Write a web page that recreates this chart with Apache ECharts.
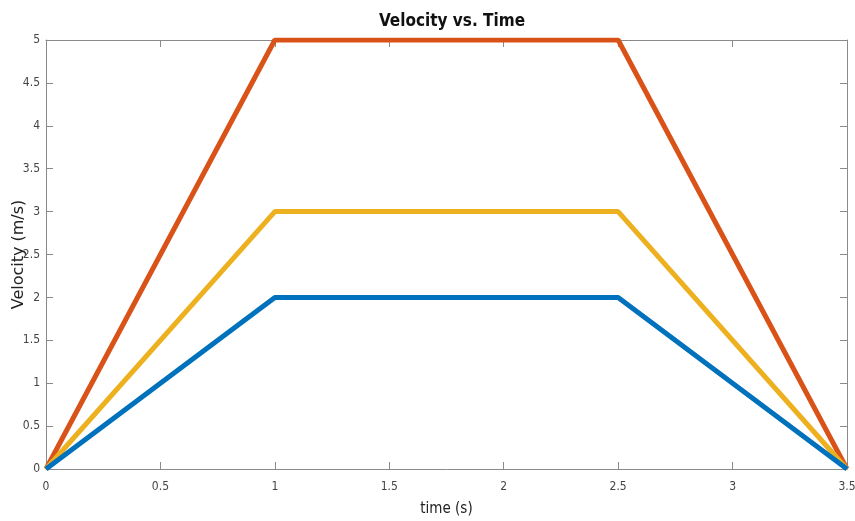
<!DOCTYPE html>
<html>
<head>
<meta charset="utf-8">
<script src="https://cdn.jsdelivr.net/npm/echarts@6/dist/echarts.min.js"></script>
<style>html,body{margin:0;padding:0;background:#fff}#c{width:855px;height:521px}</style>
</head>
<body>
<div id="c"></div>
<script>
const time = [0, 1, 2.5, 3.5];
const velBlue = [0, 2, 2, 0];
const velOrange = [0, 5, 5, 0];
const velYellow = [0, 3, 3, 0];
const xTicks = [0, 0.5, 1, 1.5, 2, 2.5, 3, 3.5];
const yTicks = [0, 0.5, 1, 1.5, 2, 2.5, 3, 3.5, 4, 4.5, 5];

const pairs = v => time.map((t, i) => [t, v[i]]);
const narrow = "'Liberation Sans Narrow', 'DejaVu Sans Condensed', 'Liberation Sans', sans-serif";
const axCol = '#8a8a8a';
const tick = {show: true, inside: true, length: 7, lineStyle: {color: axCol}};
const line = {show: true, onZero: false, lineStyle: {color: axCol, width: 1}};

const chart = echarts.init(document.getElementById('c'));
chart.setOption({
  animation: false,
  title: {
    text: 'Velocity vs. Time', left: 447, top: 8, textAlign: 'center',
    textStyle: {fontFamily: narrow, fontSize: 17, fontWeight: 'bold', color: '#111'}
  },
  grid: {left: 46, right: 8, top: 40, bottom: 52, containLabel: false, outerBoundsMode: 'none'},
  xAxis: [{
    type: 'value', min: 0, max: 3.5, interval: 0.5,
    name: 'time (s)', nameLocation: 'middle', nameGap: 33,
    nameTextStyle: {fontFamily: narrow, fontSize: 15, color: '#222'},
    axisLine: line, axisTick: tick, splitLine: {show: false},
    axisLabel: {fontFamily: narrow, fontSize: 12, color: '#444', margin: 12,
      formatter: v => xTicks.includes(v) ? String(v) : ''}
  }, {
    type: 'value', min: 0, max: 3.5, interval: 0.5, position: 'top',
    axisLine: line, axisTick: tick, axisLabel: {show: false}, splitLine: {show: false}
  }],
  yAxis: [{
    type: 'value', min: 0, max: 5, interval: 0.5,
    name: 'Velocity (m/s)', nameLocation: 'middle', nameGap: 19, nameMoveOverlap: false,
    nameTextStyle: {fontFamily: "'DejaVu Sans', 'Liberation Sans', sans-serif", fontSize: 16, color: '#222'},
    axisLine: line, axisTick: tick, splitLine: {show: false},
    axisLabel: {fontFamily: narrow, fontSize: 12, color: '#444', margin: 6,
      formatter: v => yTicks.includes(v) ? String(v) : ''}
  }, {
    type: 'value', min: 0, max: 5, interval: 0.5, position: 'right',
    axisLine: line, axisTick: tick, axisLabel: {show: false}, splitLine: {show: false}
  }],
  series: [
    {type: 'line', data: pairs(velOrange), symbol: 'none', lineStyle: {color: '#D95319', width: 5}, z: 3},
    {type: 'line', data: pairs(velYellow), symbol: 'none', lineStyle: {color: '#EDB120', width: 5}, z: 3},
    {type: 'line', data: pairs(velBlue), symbol: 'none', lineStyle: {color: '#0072BD', width: 5}, z: 3}
  ]
});
</script>
</body>
</html>
